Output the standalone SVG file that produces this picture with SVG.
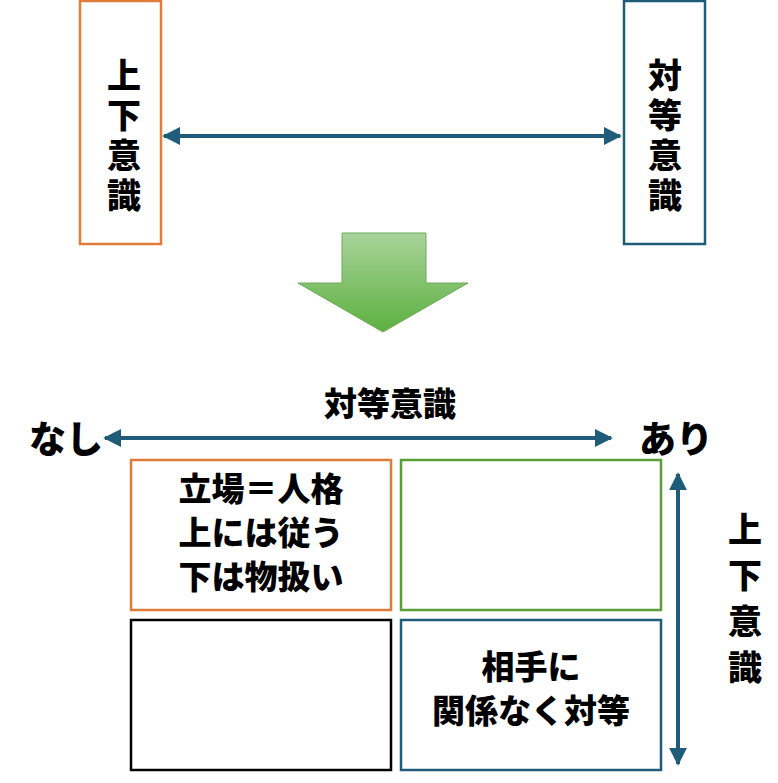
<svg xmlns="http://www.w3.org/2000/svg" width="778" height="783" viewBox="0 0 778 783">
<style>
text{font-family:"Noto Sans CJK JP","Noto Sans CJK SC",sans-serif;font-weight:900;fill:#000;text-anchor:middle}
.t{font-size:33px}
.e{font-size:37px}
.v{font-size:34px;writing-mode:vertical-rl;text-anchor:start;letter-spacing:6px}
.b{fill:#fff;stroke-width:2.5}
.c{stroke:#1F5C7A;stroke-width:4;fill:none}
</style>
<defs>
<marker id="a" viewBox="0 0 10 10" refX="9" refY="5" markerWidth="4.5" markerHeight="4.5" orient="auto-start-reverse"><path d="M0,0L10,5L0,10z" fill="#1F5C7A"/></marker>
<linearGradient id="g" x1="0" y1="0" x2="0" y2="1"><stop offset="0" stop-color="#A9D49A"/><stop offset="1" stop-color="#5CB040"/></linearGradient>
</defs>
<g id="n1"><rect class="b" x="80" y="1" width="81" height="243" stroke="#E07B39"/>
<text class="v" x="124" y="58">上下意識</text></g>
<g id="n2"><rect class="b" x="624" y="1" width="81" height="243" stroke="#1F5C7A"/>
<text class="v" x="665" y="58">対等意識</text></g>
<g id="big"><path d="M342,233H426V283H468L383,332L298,283H342Z" fill="url(#g)" stroke="#6DA85A" stroke-width="1"/></g>
<g id="labels">
<text class="t" x="390" y="416">対等意識</text>
<text class="e" x="66" y="453">なし</text>
<text class="e" x="676" y="453">あり</text>
<text class="v" x="745" y="512" style="letter-spacing:12px">上下意識</text>
</g>
<g id="q1"><rect class="b" x="131" y="460" width="260" height="150" stroke="#E07B39"/>
<text class="t" x="261" y="501">立場＝人格</text><text class="t" x="261" y="545">上には従う</text><text class="t" x="261" y="589">下は物扱い</text></g>
<g id="q2"><rect class="b" x="401" y="460" width="260" height="150" stroke="#5A9E3A"/></g>
<g id="q3"><rect class="b" x="131" y="620" width="260" height="150" stroke="#000"/></g>
<g id="q4"><rect class="b" x="401" y="620" width="260" height="150" stroke="#1F5C7A"/>
<text class="t" x="531" y="679">相手に</text><text class="t" x="531" y="723">関係なく対等</text></g>
<g id="connectors">
<line class="c" x1="164" y1="136" x2="620" y2="136" marker-start="url(#a)" marker-end="url(#a)"/>
<line class="c" x1="105" y1="438" x2="611" y2="438" marker-start="url(#a)" marker-end="url(#a)"/>
<line class="c" x1="678" y1="474" x2="678" y2="764" marker-start="url(#a)" marker-end="url(#a)"/>
</g>
</svg>
